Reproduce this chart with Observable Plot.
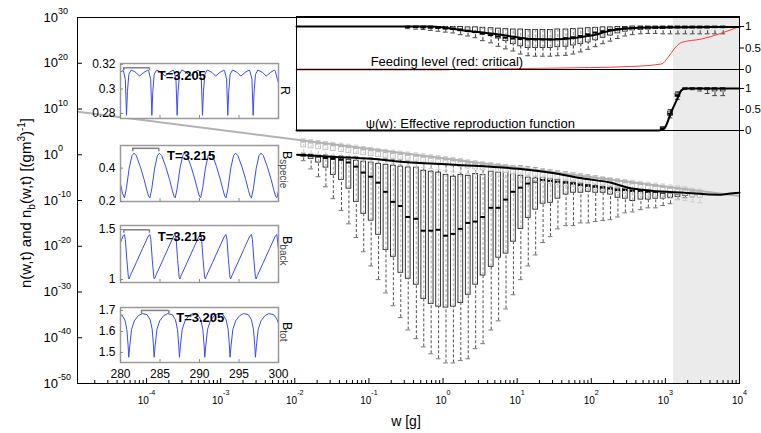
<!DOCTYPE html>
<html>
<head>
<meta charset="utf-8">
<script src="https://cdn.jsdelivr.net/npm/d3@7"></script>
<script src="https://cdn.jsdelivr.net/npm/@observablehq/plot@0.6"></script>
<style>
html,body{margin:0;padding:0;background:#fff;}
#wrap{position:relative;width:761px;height:433px;overflow:hidden;font-family:"Liberation Sans",Arial,Helvetica,sans-serif;color:#000;background:#fff;}
#wrap svg{position:absolute;left:0;top:0;}
.lab{position:absolute;white-space:nowrap;line-height:1;}
.sb{font-size:10px;position:relative;top:4px;}
.sp{font-size:10px;position:relative;top:-6px;}
.vlab{position:absolute;white-space:nowrap;line-height:1;transform-origin:0 0;transform:rotate(90deg);font-size:12.5px;}
.vlab span{font-size:10px;position:relative;top:3px;color:#444;}
</style>
</head>
<body>
<div id="wrap"></div>
<script>
const FONT = '"Liberation Sans", Arial, Helvetica, sans-serif';
const BLUE = "#3b4af2";

// ================= main axes =================
const xTickExps = [-4, -3, -2, -1, 0, 1, 2, 3, 4];
const yTickExps = [30, 20, 10, 0, -10, -20, -30, -40, -50];
const mainXDomainExp = [-4.932, 4];
const mainYDomainExp = [-50, 30];
const shadeLogW = [3.11, 4];
const topXDomainExp = [-1.973, 4];

// weight bins (log10 w)
const binLogW = [-1.88,-1.78,-1.68,-1.58,-1.48,-1.37,-1.27,-1.17,-1.07,-0.97,
 -0.87,-0.77,-0.67,-0.57,-0.47,-0.36,-0.26,-0.16,-0.06,0.04,
 0.14,0.24,0.34,0.44,0.54,0.65,0.75,0.85,0.95,1.05,
 1.15,1.25,1.35,1.45,1.55,1.66,1.76,1.86,1.96,2.06,
 2.16,2.26,2.36,2.46,2.56,2.67,2.77,2.87,2.97,3.07,
 3.17,3.27,3.37,3.47,3.57,3.67,3.78];

// species spectrum n(w,t) box statistics, log10 values, bins 1..54
const nWTop = [0.2,0.2,0,0,-0.2,-0.2,-0.4,-0.4,-0.7,-0.7,
 -0.9,-0.9,-1.1,-1.1,-1.3,-1.3,-1.5,-1.5,-1.7,-1.7,
 -2.0,-2.0,-2.0,-2.0,-2.2,-2.2,-2.2,-2.2,-2.4,-2.4,
 -2.6,-2.8,-3.1,-3.3,-3.5,-3.7,-3.9,-4.2,-4.4,-4.6,
 -5.0,-5.2,-5.5,-5.7,-5.9,-6.1,-6.3,-6.6,-6.8,-7.0,
 -7.2,-7.4,-7.6,-7.9];
const nQ3 = [0,0,-0.2,-0.4,-0.7,-0.9,-1.1,-1.3,-1.5,-1.7,
 -2.0,-2.2,-2.4,-2.6,-2.8,-2.8,-3.5,-3.7,-3.9,-4.4,
 -4.8,-4.4,-4.6,-4.2,-4.4,-3.7,-3.9,-3.7,-3.7,-4.6,
 -5.0,-5.2,-5.0,-5.2,-5.5,-5.9,-6.1,-6.3,-6.6,-6.8,
 -7.0,-7.2,-7.4,-7.4,-7.6,-7.6,-7.9,-7.9,-8.1,-8.1,
 -8.3,-8.3,-8.5,-8.5];
const nMed = [-0.1,-0.2,-0.4,-0.7,-0.9,-1.1,-1.7,-2.6,-3.9,-4.8,
 -6.1,-8.1,-10.3,-11.2,-13.6,-14.0,-16.6,-16.6,-16.4,-17.7,
 -17.3,-16.2,-14.9,-14.6,-13.6,-11.6,-11.6,-9.8,-8.1,-7.2,
 -6.3,-5.9,-5.5,-5.7,-5.9,-6.1,-6.3,-6.6,-6.8,-7.0,
 -7.2,-7.4,-7.7,-7.7,-7.9,-7.9,-8.1,-8.1,-8.3,-8.3,
 -8.5,-8.5,-8.6,-8.7];
const nQ1 = [-0.4,-0.9,-1.7,-2.8,-4.4,-5.5,-7.4,-10.3,-12.9,-14.4,
 -17.5,-20.8,-22.3,-25.8,-27.1,-28.4,-31.5,-32.6,-33.2,-33.4,
 -33.2,-32.4,-30.6,-28.4,-26.4,-24.5,-22.5,-21.6,-19.0,-16.2,
 -13.8,-12.0,-10.7,-10.5,-9.6,-8.7,-8.3,-8.3,-8.1,-8.3,
 -8.3,-8.7,-9.4,-9.6,-10.1,-9.8,-9.8,-9.6,-9.6,-9.4,
 -9.2,-9.0,-9.0,-9.0];
const nWBot = [-1.3,-3.1,-4.8,-7.0,-9.6,-12.2,-15.1,-18.1,-21.2,-24.3,
 -27.3,-30.2,-33.0,-35.6,-38.3,-40.2,-42.0,-43.5,-44.6,-45.5,
 -45.5,-45.0,-44.6,-42.4,-41.3,-38.3,-36.3,-33.7,-30.6,-27.3,
 -24.3,-21.9,-19.2,-17.9,-16.2,-15.5,-15.5,-14.9,-14.9,-14.6,
 -14.4,-14.2,-13.6,-12.7,-12.5,-12.0,-11.6,-11.6,-11.1,-10.7,
 -9.8,-9.4,-9.2,-9.2];

// background spectrum n_b(w,t) box statistics, log10 values, bins 1..54
const gWTop = [3.5,3.3,3.1,2.9,2.7,2.5,2.3,2.1,1.8,1.6,
 1.4,1.2,1.0,0.8,0.6,0.4,0.2,0.0,-0.2,-0.4,
 -0.6,-0.8,-1.1,-1.3,-1.5,-1.7,-1.9,-2.1,-2.3,-2.5,
 -2.7,-2.9,-3.1,-3.3,-3.5,-3.7,-3.9,-4.2,-4.4,-4.6,
 -4.8,-5.0,-5.2,-5.4,-5.6,-5.8,-6.0,-6.2,-6.4,-6.6,
 -6.8,-7.0,-7.3,-7.5];
const gQ3 = [3.1,2.9,2.7,2.5,2.3,2.1,1.9,1.7,1.4,1.2,
 1.0,0.8,0.6,0.4,0.2,0.0,-0.2,-0.4,-0.6,-0.8,
 -1.0,-1.2,-1.5,-1.7,-1.9,-2.1,-2.3,-2.5,-2.7,-2.9,
 -3.1,-3.3,-3.5,-3.7,-3.9,-4.1,-4.3,-4.6,-4.8,-5.0,
 -5.2,-5.4,-5.6,-5.8,-6.0,-6.2,-6.4,-6.6,-6.8,-7.0,
 -7.2,-7.4,-7.7,-7.9];
const gMed = [2.8,2.6,2.4,2.2,2.0,1.8,1.6,1.4,1.1,0.9,
 0.7,0.5,0.3,0.1,-0.1,-0.3,-0.5,-0.7,-0.9,-1.1,
 -1.3,-1.5,-1.8,-2.0,-2.2,-2.4,-2.6,-2.8,-3.0,-3.2,
 -3.4,-3.6,-3.8,-4.0,-4.2,-4.4,-4.6,-4.9,-5.1,-5.3,
 -5.5,-5.7,-5.9,-6.1,-6.3,-6.5,-6.7,-6.9,-7.1,-7.3,
 -7.5,-7.7,-8.0,-8.2];
const gQ1 = [1.6,1.4,1.2,1.0,0.8,0.6,0.4,0.2,-0.1,-0.3,
 -0.5,-0.7,-0.9,-1.1,-1.3,-1.5,-1.7,-1.9,-2.1,-2.3,
 -2.5,-2.7,-3.0,-3.2,-3.4,-3.6,-3.8,-4.0,-4.2,-4.4,
 -4.6,-4.8,-5.0,-5.2,-5.4,-5.6,-5.8,-6.1,-6.3,-6.5,
 -6.7,-6.9,-7.1,-7.3,-7.5,-7.7,-7.9,-8.1,-8.3,-8.5,
 -8.7,-8.9,-9.2,-9.4];
const gWBot = [0.5,0.3,0.1,-0.1,-0.3,-0.5,-0.7,-0.9,-1.2,-1.4,
 -1.6,-1.8,-2.0,-2.2,-2.4,-2.6,-2.8,-3.0,-3.2,-3.4,
 -3.6,-3.8,-4.1,-4.3,-4.5,-4.7,-4.9,-5.1,-5.3,-5.5,
 -5.7,-5.9,-6.1,-6.3,-6.5,-6.7,-6.9,-7.2,-7.4,-7.6,
 -7.8,-8.0,-8.2,-8.4,-8.6,-8.8,-9.0,-9.2,-9.4,-9.6,
 -9.8,-10.0,-10.3,-10.5];

// background line and mean species spectrum
const bgLogW = [-4.93, 4.0];
const bgExp = [9.4, -9.0];
const specLogW = [-1.97,-1.51,-0.97,-0.57,0.15,1.01,1.46,1.91,2.27,2.50,2.81,3.26,3.72,3.85,4.0];
const specExp = [0,-0.44,-0.87,-1.53,-2.19,-3.06,-3.93,-5.25,-6.12,-7.21,-7.87,-8.31,-8.74,-8.52,-8.31];

// ================= top-right panels =================
const topTicks = [0, 0.5, 1];
const feedYDomain = [0, 1.233];
const psiYDomain = [0, 1.452];
const feedBinStart = 14; // bins 15..57
const fQ3 = [1.0,1.0,1.0,1.0,0.99,0.99,0.99,0.99,0.98,0.98,
 0.97,0.96,0.95,0.94,0.93,0.93,0.92,0.92,0.92,0.92,
 0.93,0.93,0.94,0.95,0.96,0.97,0.98,0.98,0.99,0.99,
 1.0,1.0,1.0,1.0,1.0,1.0,1.0,1.0,1.0,1.0,1.0,1.0,1.0];
const fMed = [0.99,0.99,0.98,0.98,0.97,0.96,0.95,0.93,0.90,0.87,
 0.84,0.80,0.77,0.74,0.72,0.71,0.70,0.70,0.70,0.70,
 0.71,0.73,0.75,0.78,0.82,0.86,0.89,0.92,0.94,0.96,
 0.97,0.98,0.98,0.98,0.98,0.99,0.99,0.99,0.99,0.99,0.99,0.99,0.99];
const fQ1 = [0.97,0.97,0.96,0.95,0.95,0.93,0.92,0.89,0.87,0.85,
 0.81,0.78,0.72,0.66,0.59,0.54,0.50,0.50,0.50,0.50,
 0.52,0.53,0.56,0.59,0.63,0.68,0.74,0.79,0.84,0.88,
 0.91,0.92,0.93,0.94,0.94,0.95,0.95,0.95,0.95,0.95,0.95,0.96,0.96];
const fWBot = [0.95,0.94,0.93,0.91,0.89,0.87,0.85,0.81,0.78,0.74,
 0.67,0.62,0.54,0.48,0.43,0.36,0.32,0.31,0.31,0.31,
 0.32,0.33,0.36,0.41,0.47,0.53,0.60,0.66,0.72,0.78,
 0.81,0.83,0.84,0.84,0.83,0.83,0.83,0.83,0.83,0.83,0.83,0.83,0.83];
const feedLogW = [-1.973,-0.16,0.28,0.74,0.96,1.2,1.5,1.8,2.0,2.31,2.77,4.0];
const feedVal = [1.0,1.0,0.91,0.82,0.76,0.71,0.70,0.74,0.79,0.92,0.975,0.99];
const critDarkLogW = [-1.973, 0.08];
const critDarkVal = [0.0, 0.0];
const critLogW = [0.08,1.42,2.54,2.95,3.04,3.13,3.22,3.49,4.0];
const critVal = [0.0,0.03,0.07,0.13,0.29,0.50,0.63,0.71,1.0];
const psiLogW = [-1.973,2.91,2.99,3.08,3.15,3.22,3.28,4.0];
const psiVal = [0,0,0.06,0.44,0.71,0.96,1.0,1.0];
const psiBinStart = 48; // bins 49..57
const pWTop = [0.09,0.50,0.92,1.0,1.0,1.0,1.0,1.0,1.0];
const pQ3 = [0.07,0.45,0.88,1.0,1.0,1.0,1.0,1.0,1.0];
const pMed = [0.05,0.40,0.84,1.0,1.0,1.0,1.0,1.0,1.0];
const pQ1 = [0.03,0.35,0.80,0.99,0.99,0.98,0.96,0.93,0.93];
const pWBot = [0.01,0.30,0.74,0.98,0.97,0.94,0.88,0.83,0.83];
const feedLabel = {s: "Feeding level (red: critical)", lw: -0.973, v: 0.19};
const psiLabel = {s: "\u03c8(w): Effective reproduction function", lw: -1.04, v: 0.17};

// ================= left insets (time series) =================
const insetTDomain = [280, 300];
const insetTTicks = [280, 285, 290, 295, 300];

const rT = [280.00,280.36,280.61,280.76,280.88,281.06,281.36,281.96,282.41,282.96,283.46,
 283.57,283.82,283.97,284.09,284.27,284.57,285.17,285.62,286.17,286.67,
 286.77,287.02,287.17,287.29,287.47,287.77,288.37,288.82,289.37,289.87,
 289.98,290.23,290.38,290.50,290.68,290.98,291.58,292.03,292.58,293.08,
 293.18,293.43,293.58,293.70,293.88,294.18,294.78,295.23,295.78,296.28,
 296.39,296.64,296.79,296.91,297.09,297.39,297.99,298.44,298.99,299.49,
 299.60,299.85,300.00];
const rV = [0.3140,0.3150,0.3080,0.2785,0.2980,0.3120,0.3155,0.3135,0.3105,0.3135,0.3155,
 0.3145,0.3080,0.2785,0.2980,0.3120,0.3155,0.3135,0.3105,0.3135,0.3155,
 0.3145,0.3080,0.2785,0.2980,0.3120,0.3155,0.3135,0.3105,0.3135,0.3155,
 0.3145,0.3080,0.2785,0.2980,0.3120,0.3155,0.3135,0.3105,0.3135,0.3155,
 0.3145,0.3080,0.2785,0.2980,0.3120,0.3155,0.3135,0.3105,0.3135,0.3155,
 0.3145,0.3080,0.2785,0.2980,0.3120,0.3155,0.3135,0.3105,0.3135,0.3155,
 0.3145,0.3080,0.3050];

const bsT = [280.00,280.25,
 280.50,280.75,281.10,281.45,281.70,282.00,282.50,283.00,283.35,283.55,
 283.72,283.97,284.32,284.67,284.92,285.22,285.72,286.22,286.57,286.77,
 286.93,287.18,287.53,287.88,288.13,288.43,288.93,289.43,289.78,289.98,
 290.15,290.40,290.75,291.10,291.35,291.65,292.15,292.65,293.00,293.20,
 293.36,293.61,293.96,294.31,294.56,294.86,295.36,295.86,296.21,296.41,
 296.58,296.83,297.18,297.53,297.78,298.08,298.58,299.08,299.43,299.63,
 299.79,300.00];
const bsV = [0.305,0.250,
 0.222,0.280,0.400,0.475,0.490,0.475,0.410,0.330,0.265,0.232,
 0.222,0.280,0.400,0.475,0.490,0.475,0.410,0.330,0.265,0.232,
 0.222,0.280,0.400,0.475,0.490,0.475,0.410,0.330,0.265,0.232,
 0.222,0.280,0.400,0.475,0.490,0.475,0.410,0.330,0.265,0.232,
 0.222,0.280,0.400,0.475,0.490,0.475,0.410,0.330,0.265,0.232,
 0.222,0.280,0.400,0.475,0.490,0.475,0.410,0.330,0.265,0.232,
 0.222,0.262];

const bbT = [280.00,280.35,
 280.50,280.62,280.80,281.00,281.08,281.25,282.00,282.80,283.40,283.57,
 283.72,283.84,284.02,284.22,284.30,284.47,285.22,286.02,286.62,286.78,
 286.93,287.05,287.23,287.43,287.51,287.68,288.43,289.23,289.83,290.00,
 290.15,290.27,290.45,290.65,290.73,290.90,291.65,292.45,293.05,293.21,
 293.36,293.48,293.66,293.86,293.94,294.11,294.86,295.66,296.26,296.43,
 296.58,296.70,296.88,297.08,297.16,297.33,298.08,298.88,299.48,299.64,
 299.79,300.00];
const bbV = [1.370,1.440,
 1.450,1.400,1.200,1.020,1.005,1.040,1.170,1.310,1.415,1.440,
 1.450,1.400,1.200,1.020,1.005,1.040,1.170,1.310,1.415,1.440,
 1.450,1.400,1.200,1.020,1.005,1.040,1.170,1.310,1.415,1.440,
 1.450,1.400,1.200,1.020,1.005,1.040,1.170,1.310,1.415,1.440,
 1.450,1.400,1.200,1.020,1.005,1.040,1.170,1.310,1.415,1.440,
 1.450,1.400,1.200,1.020,1.005,1.040,1.170,1.310,1.415,1.440,
 1.450,1.300];

const btT = [280.00,
 280.15,280.55,280.80,280.95,281.05,281.17,281.40,281.75,282.25,282.75,
 283.36,283.76,284.01,284.16,284.26,284.38,284.61,284.96,285.46,285.96,
 286.56,286.96,287.21,287.36,287.46,287.58,287.81,288.16,288.66,289.16,
 289.77,290.17,290.42,290.57,290.67,290.79,291.02,291.37,291.87,292.37,
 292.97,293.37,293.62,293.77,293.87,293.99,294.22,294.57,295.07,295.57,
 296.18,296.58,296.83,296.98,297.08,297.20,297.43,297.78,298.28,298.78,
 299.38,299.78,300.00];
const btV = [1.672,
 1.680,1.655,1.610,1.540,1.477,1.530,1.610,1.650,1.675,1.685,
 1.680,1.655,1.610,1.540,1.477,1.530,1.610,1.650,1.675,1.685,
 1.680,1.655,1.610,1.540,1.477,1.530,1.610,1.650,1.675,1.685,
 1.680,1.655,1.610,1.540,1.477,1.530,1.610,1.650,1.675,1.685,
 1.680,1.655,1.610,1.540,1.477,1.530,1.610,1.650,1.675,1.685,
 1.680,1.655,1.610,1.540,1.477,1.530,1.610,1.650,1.675,1.685,
 1.680,1.660,1.640];

const insets = [
  {top: 63, bottom: 118, t: rT, v: rV, yDomain: [0.2759, 0.3208], yTicks: [0.28, 0.3, 0.32],
   br: {t1: 280.42, t2: 283.67, lev: 0.3173, end: 0.3148}, tx: {t: 284.72, v: 0.311, s: "T=3.205"}, showX: false},
  {top: 145, bottom: 201, t: bsT, v: bsV, yDomain: [0.2, 0.536], yTicks: [0.2, 0.4],
   br: {t1: 281.56, t2: 284.85, lev: 0.519, end: 0.499}, tx: {t: 285.9, v: 0.473, s: "T=3.215"}, showX: false},
  {top: 225, bottom: 282, t: bbT, v: bbV, yDomain: [0.97, 1.54], yTicks: [1, 1.5],
   br: {t1: 280.42, t2: 283.67, lev: 1.497, end: 1.463}, tx: {t: 284.72, v: 1.423, s: "T=3.215"}, showX: false},
  {top: 307, bottom: 362, t: btT, v: btV, yDomain: [1.452, 1.714], yTicks: [1.5, 1.6, 1.7],
   br: {t1: 282.66, t2: 286.12, lev: 1.700, end: 1.684}, tx: {t: 287.05, v: 1.665, s: "T=3.205"}, showX: true}
];

// ---------- sanity checks ----------
[[nWTop,54],[nQ3,54],[nMed,54],[nQ1,54],[nWBot,54],[gWTop,54],[gQ3,54],[gMed,54],[gQ1,54],[gWBot,54],
 [fQ3,43],[fMed,43],[fQ1,43],[fWBot,43],[binLogW,57],[pQ1,9]].forEach(([a,n],k)=>{ if(a.length!==n) throw new Error("length mismatch "+k+": "+a.length); });
[[rT,rV],[bsT,bsV],[bbT,bbV],[btT,btV]].forEach(([a,b],k)=>{ if(a.length!==b.length) throw new Error("series mismatch "+k+": "+a.length+" vs "+b.length); });

// ================= helpers =================
const W = 761, H = 433;
const BW = 0.032; // half box width in decades (style)
const pow = e => 10 ** e;
const plainFmt = d => String(d);

function boxMarks(rows, c) {
  const m = [
    Plot.ruleX(rows, {x: "x", y1: "wBot", y2: "wTop", stroke: c.whisk, strokeWidth: 1, strokeDasharray: "3,2"}),
    Plot.rect(rows, {x1: "x1", x2: "x2", y1: "q1", y2: "q3", fill: "white", stroke: c.box, strokeWidth: 0.9}),
    Plot.ruleX(rows, {x: "x", y1: "q1", y2: "q3", stroke: c.inner, strokeWidth: 1.3, strokeDasharray: "3,2"}),
    Plot.ruleY(rows, {y: "wBot", x1: "x1", x2: "x2", stroke: c.cap, strokeWidth: 1})
  ];
  if (c.topCap) m.push(Plot.ruleY(rows, {y: "wTop", x1: "x1", x2: "x2", stroke: c.cap, strokeWidth: 1}));
  m.push(Plot.ruleY(rows, {y: "med", x1: "x1", x2: "x2", stroke: c.med, strokeWidth: c.medW || 2}));
  return m;
}
function rowsFrom(start, arrs, logY) {
  const f = logY ? pow : (v => v);
  return arrs.med.map((_, i) => {
    const lw = binLogW[start + i];
    return {x: pow(lw), x1: pow(lw - BW), x2: pow(lw + BW),
      wTop: f(arrs.wTop[i]), q3: f(arrs.q3[i]), med: f(arrs.med[i]), q1: f(arrs.q1[i]), wBot: f(arrs.wBot[i])};
  });
}
// turn "10^{e}" texts into 10 + raised exponent tspan
function supify(svg) {
  svg.querySelectorAll("text").forEach(t => {
    const m = (t.textContent || "").match(/^10\^\{(.*)\}$/);
    if (!m) return;
    const holder = t.closest("[font-size]");
    const fs = holder ? parseFloat(holder.getAttribute("font-size")) : 10;
    const big = fs >= 12;
    t.textContent = "10";
    const ts = document.createElementNS("http://www.w3.org/2000/svg", "tspan");
    ts.setAttribute("font-size", big ? "0.69em" : "0.72em");
    ts.setAttribute("dy", big ? "-0.85em" : "-1.2em");
    ts.textContent = m[1];
    t.appendChild(ts);
  });
}
const baseStyle = {background: "transparent", fontFamily: FONT, overflow: "visible", color: "#000"};

// ================= main plot =================
const ML = 77, MR = 22, MT = 17, MB = 50;
const FW = W - ML - MR, FH = H - MT - MB;
const xDom = mainXDomainExp.map(pow), yDom = mainYDomainExp.map(pow);
const xMajor = xTickExps.map(pow);
const xMinor = [];
for (let e = Math.floor(mainXDomainExp[0]); e < mainXDomainExp[1]; e++)
  for (let k = 2; k <= 9; k++) { const v = k * 10 ** e; if (v > xDom[0] && v < xDom[1]) xMinor.push(v); }

const mainRows = rowsFrom(0, {wTop: nWTop, q3: nQ3, med: nMed, q1: nQ1, wBot: nWBot}, true);
const grayRows = rowsFrom(0, {wTop: gWTop, q3: gQ3, med: gMed, q1: gQ1, wBot: gWBot}, true);
const bgLine = bgLogW.map((lw, i) => ({x: pow(lw), y: pow(bgExp[i])}));
const specLine = specLogW.map((lw, i) => ({x: pow(lw), y: pow(specExp[i])}));

const mainPlot = Plot.plot({
  width: W, height: H, marginLeft: ML, marginRight: MR, marginTop: MT, marginBottom: MB,
  style: baseStyle,
  x: {type: "log", domain: xDom, axis: null, label: null},
  y: {type: "log", domain: yDom, axis: null, label: null},
  marks: [
    Plot.rect([0], {x1: pow(shadeLogW[0]), x2: pow(shadeLogW[1]), y1: yDom[0], y2: yDom[1], fill: "#ebebeb"}),
    ...boxMarks(mainRows, {whisk: "#505050", box: "#222", inner: "#bdbdbd", cap: "#777", med: "#000", topCap: true}),
    ...boxMarks(grayRows, {whisk: "#cccccc", box: "#bdbdbd", inner: "#dddddd", cap: "#cccccc", med: "#b8b8b8", topCap: true, medW: 1.5}),
    Plot.line(bgLine, {x: "x", y: "y", stroke: "#b3b3b3", strokeWidth: 2}),
    Plot.line(specLine, {x: "x", y: "y", stroke: "#000", strokeWidth: 2, curve: "monotone-x"}),
    Plot.frame({stroke: "#000", strokeWidth: 1}),
    Plot.tickX(xMajor, {x: d => d, insetTop: FH - 5, stroke: "#000"}),
    Plot.tickX(xMinor, {x: d => d, insetTop: FH - 3, stroke: "#000"}),
    Plot.tickY(yTickExps.map(pow), {y: d => d, insetRight: FW - 5, stroke: "#000"}),
    Plot.text(xTickExps, {x: pow, frameAnchor: "bottom", dy: 20, text: e => `10^{${e}}`, fontSize: 10}),
    Plot.text(yTickExps, {y: pow, frameAnchor: "left", dx: -34, textAnchor: "start", text: e => `10^{${e}}`, fontSize: 13})
  ]
});
supify(mainPlot);

// ================= top panels =================
const topDom = topXDomainExp.map(pow);
const TPL = 296, TPR = W - 739;
const feedRows = fMed.map((_, i) => {
  const lw = binLogW[feedBinStart + i];
  return {x: pow(lw), x1: pow(lw - BW), x2: pow(lw + BW), wTop: fQ3[i], q3: fQ3[i], med: fMed[i], q1: fQ1[i], wBot: fWBot[i]};
});
const psiRows = rowsFrom(psiBinStart, {wTop: pWTop, q3: pQ3, med: pMed, q1: pQ1, wBot: pWBot}, false);
const xy = (lws, vs) => lws.map((lw, i) => ({x: pow(lw), y: vs[i]}));

const feedPlot = Plot.plot({
  width: W, height: H, marginLeft: TPL, marginRight: TPR, marginTop: 16, marginBottom: H - 69,
  style: baseStyle,
  x: {type: "log", domain: topDom, axis: null, label: null},
  y: {domain: feedYDomain, axis: null, label: null},
  marks: [
    ...boxMarks(feedRows, {whisk: "#333", box: "#222", inner: "#aaa", cap: "#444", med: "#000", topCap: false}),
    Plot.line(xy(critDarkLogW, critDarkVal), {x: "x", y: "y", stroke: "#a00000", strokeWidth: 1.5}),
    Plot.line(xy(critLogW, critVal), {x: "x", y: "y", stroke: "#ff3a3a", strokeWidth: 1, curve: "monotone-x"}),
    Plot.line(xy(feedLogW, feedVal), {x: "x", y: "y", stroke: "#000", strokeWidth: 2, curve: "monotone-x"}),
    Plot.text([feedLabel], {x: d => pow(d.lw), y: "v", text: "s", textAnchor: "start", fontSize: 13}),
    Plot.frame({stroke: "#000"}),
    Plot.axisY({anchor: "right", ticks: topTicks, tickSize: 4, tickPadding: 1.5, fontSize: 11.5, tickFormat: plainFmt, label: null})
  ]
});

const psiPlot = Plot.plot({
  width: W, height: H, marginLeft: TPL, marginRight: TPR, marginTop: 69, marginBottom: H - 130,
  style: baseStyle,
  x: {type: "log", domain: topDom, axis: null, label: null},
  y: {domain: psiYDomain, axis: null, label: null},
  marks: [
    ...boxMarks(psiRows, {whisk: "#333", box: "#222", inner: "#aaa", cap: "#444", med: "#000", topCap: true}),
    Plot.line(xy(psiLogW, psiVal), {x: "x", y: "y", stroke: "#000", strokeWidth: 2, curve: "monotone-x"}),
    Plot.text([psiLabel], {x: d => pow(d.lw), y: "v", text: "s", textAnchor: "start", fontSize: 13}),
    Plot.frame({stroke: "#000"}),
    Plot.axisY({anchor: "right", ticks: topTicks, tickSize: 4, tickPadding: 1.5, fontSize: 11.5, tickFormat: plainFmt, label: null})
  ]
});

// ================= insets =================
function insetPlot(o) {
  const fw = 278 - 120, fh = o.bottom - o.top;
  return Plot.plot({
    width: W, height: H, marginLeft: 120, marginRight: W - 278, marginTop: o.top, marginBottom: H - o.bottom,
    style: baseStyle,
    x: {domain: insetTDomain, axis: null, label: null},
    y: {domain: o.yDomain, axis: null, label: null},
    marks: [
      Plot.frame({fill: "white", stroke: "none"}),
      Plot.line(o.t.map((t, i) => ({t, v: o.v[i]})), {x: "t", y: "v", stroke: BLUE, strokeWidth: 1}),
      Plot.ruleY([o.br], {y: "lev", x1: "t1", x2: "t2", stroke: "#808080", strokeWidth: 1.5}),
      Plot.ruleX([o.br.t1, o.br.t2], {x: d => d, y1: o.br.lev, y2: o.br.end, stroke: "#808080", strokeWidth: 1.5}),
      Plot.text([o.tx], {x: "t", y: "v", text: "s", textAnchor: "start", fontWeight: "bold", fontSize: 13}),
      Plot.frame({stroke: "#9a9a9a", strokeWidth: 1.5}),
      Plot.tickY(o.yTicks, {y: d => d, insetRight: fw - 3, stroke: "#8a8a8a"}),
      Plot.tickX(insetTTicks, {x: d => d, insetTop: fh - 3, stroke: "#8a8a8a"}),
      Plot.axisY({ticks: o.yTicks, tickSize: 0, tickPadding: 5, fontSize: 12, tickFormat: plainFmt, label: null}),
      o.showX ? Plot.axisX({ticks: insetTTicks, tickSize: 0, tickPadding: 7, fontSize: 12, tickFormat: plainFmt, label: null}) : null
    ]
  });
}

const wrap = document.getElementById("wrap");
wrap.append(mainPlot, feedPlot, psiPlot, ...insets.map(insetPlot));

// ================= HTML text labels =================
function addLabel(html, cls, style) {
  const d = document.createElement("div");
  d.className = cls; d.innerHTML = html; d.setAttribute("style", style);
  wrap.appendChild(d);
}
addLabel('n(w,t) and n<span class="sb">b</span>(w,t) [(gm<span class="sp">3</span>)<span class="sp">-1</span>]', "lab",
  "left:25px;top:203px;transform:translate(-50%,-50%) rotate(-90deg);font-size:15px;");
addLabel("w [g]", "lab", "left:406px;top:421px;transform:translate(-50%,-50%);font-size:14px;");
addLabel("R", "vlab", "left:291px;top:86px;");
addLabel("B<span>specie</span>", "vlab", "left:293px;top:151px;");
addLabel("B<span>back</span>", "vlab", "left:293px;top:236px;");
addLabel("B<span>tot</span>", "vlab", "left:293px;top:322px;");
</script>
</body>
</html>
